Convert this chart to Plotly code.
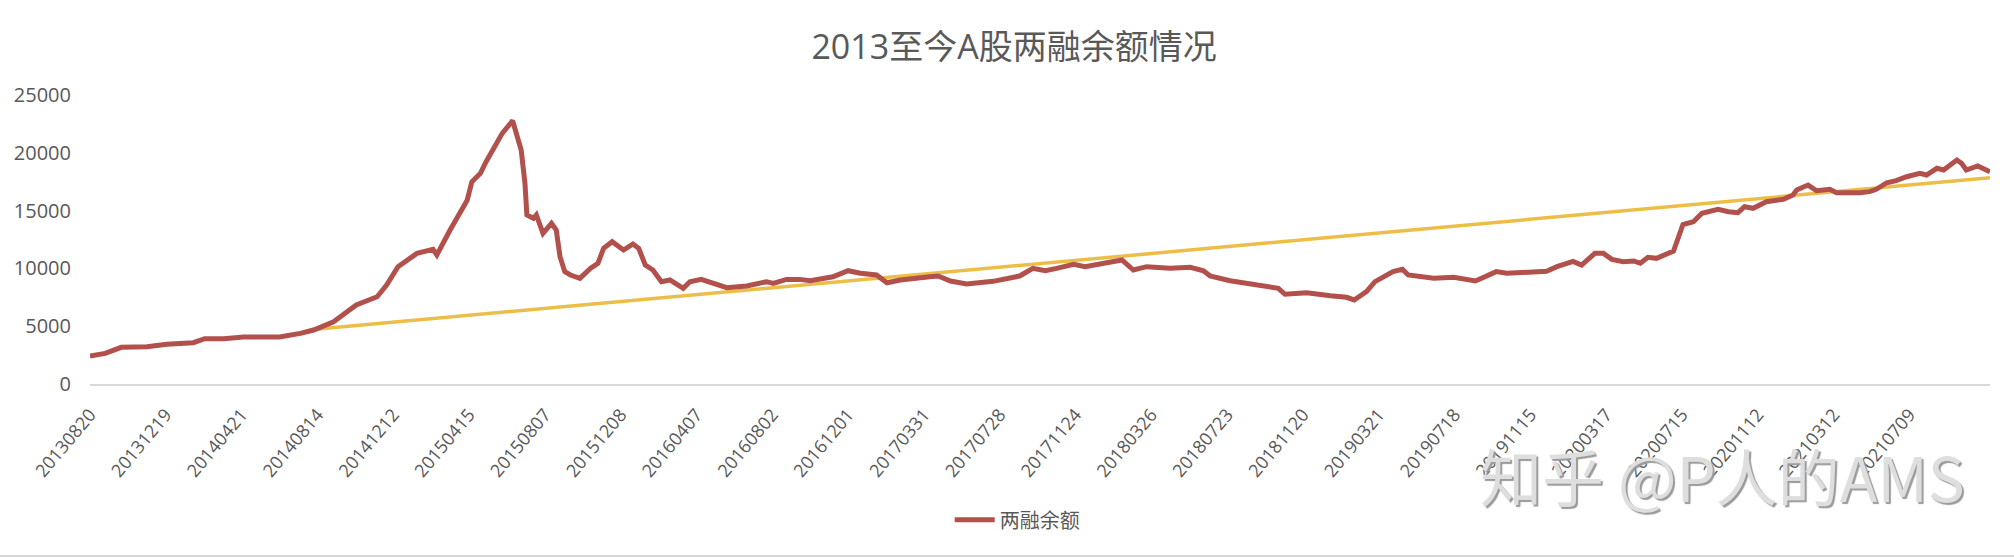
import plotly.graph_objects as go

# ---- data ----
tick_labels = ["20130820", "20131219", "20140421", "20140814", "20141212", "20150415",
               "20150807", "20151208", "20160407", "20160802", "20161201", "20170331",
               "20170728", "20171124", "20180326", "20180723", "20181120", "20190321",
               "20190718", "20191115", "20200317", "20200715", "20201112", "20210312",
               "20210709"]
tick_step = 80            # trading days between labelled categories
n_days = 2006             # number of trading-day categories on the axis

y_ticks = [0, 5000, 10000, 15000, 20000, 25000]

day_index = [0, 16, 33, 60, 81, 109, 121, 141, 162, 200, 222, 236, 257, 271, 281, 303,
             313, 325, 345, 362, 366, 380, 398, 403, 412, 418, 427, 435, 446, 455, 459,
             461, 468, 471, 478, 487, 492, 496, 501, 507, 517, 528, 536, 542, 551, 563,
             573, 579, 586, 594, 603, 612, 626, 633, 645, 658, 672, 693, 714, 721, 735,
             749, 760, 784, 800, 813, 830, 841, 855, 886, 895, 908, 925, 953, 981, 995,
             1008, 1020, 1038, 1050, 1069, 1089, 1101, 1115, 1140, 1161, 1175, 1182, 1203,
             1235, 1254, 1261, 1284, 1309, 1326, 1334, 1347, 1356, 1375, 1385, 1391, 1418,
             1439, 1462, 1484, 1495, 1523, 1537, 1548, 1565, 1574, 1588, 1597, 1606, 1618,
             1629, 1636, 1644, 1653, 1657, 1671, 1681, 1692, 1701, 1718, 1729, 1739, 1746,
             1755, 1769, 1787, 1797, 1801, 1813, 1822, 1836, 1843, 1868, 1878, 1885, 1896,
             1906, 1917, 1931, 1938, 1949, 1956, 1963, 1970, 1975, 1980, 1992, 2005]
balance = [2420, 2650, 3170, 3230, 3430, 3575, 3920, 3920, 4065, 4065, 4380, 4670, 5390,
           6230, 6830, 7550, 8560, 10150, 11300, 11650, 11160, 13320, 15900, 17500, 18225,
           19230, 20530, 21685, 22776, 20240, 17360, 14620, 14330, 14620, 13030, 13900,
           13320, 11015, 9720, 9430, 9140, 10005, 10440, 11740, 12310, 11590, 12110, 11740,
           10290, 9860, 8850, 9000, 8280, 8850, 9050, 8710, 8330, 8480, 8850, 8710, 9050,
           9050, 8935, 9280, 9800, 9575, 9430, 8760, 9000, 9280, 9340, 8910, 8650, 8880,
           9340, 10005, 9800, 10005, 10350, 10150, 10440, 10730, 9860, 10150, 10005, 10090,
           9800, 9340, 8935, 8560, 8280, 7760, 7900, 7640, 7500, 7270, 7985, 8850, 9720,
           9920, 9430, 9140, 9230, 8910, 9720, 9575, 9750, 9750, 10150, 10610, 10290, 11300,
           11300, 10780, 10580, 10640, 10440, 10960, 10870, 11015, 11500, 13800, 14040,
           14770, 15110, 14900, 14820, 15340, 15200, 15770, 15980, 16350, 16780, 17210,
           16720, 16840, 16550, 16550, 16640, 16840, 17410, 17590, 17930, 18230, 18080,
           18660, 18510, 18950, 19380, 19090, 18510, 18860, 18360]

trend_index = [232, 2005]
trend_value = [4700, 17850]

series_name = "两融余额"
title_text = "2013至今A股两融余额情况"
watermark = "知乎 @P人的AMS"

# ---- figure ----
TXT = "#595959"
FONT = "Open Sans, 'Noto Sans CJK SC', sans-serif"

fig = go.Figure()
fig.add_trace(go.Scatter(
    x=trend_index, y=trend_value, mode="lines", showlegend=False,
    line=dict(color="#EDBE47", width=3.5), hoverinfo="skip"))
fig.add_trace(go.Scatter(
    x=day_index, y=balance, mode="lines", name=series_name,
    line=dict(color="#B2504C", width=5)))

fig.update_layout(
    width=2014, height=558,
    margin=dict(l=90, r=24, t=95, b=174),
    paper_bgcolor="white", plot_bgcolor="white",
    font=dict(family=FONT, color=TXT, size=19),
    title=dict(text=title_text, x=0.5035, xref="container", xanchor="center",
               y=1 - 47 / 558, yref="container", yanchor="middle",
               font=dict(size=34, color=TXT, family=FONT)),
    showlegend=True,
    legend=dict(orientation="h", x=0.488, xanchor="center", y=-0.47, yanchor="middle",
                font=dict(size=20, color=TXT, family=FONT), itemwidth=40,
                bgcolor="rgba(0,0,0,0)"),
    xaxis=dict(range=[0, n_days - 1], showgrid=False, zeroline=False,
               showline=True, linecolor="#D9D9D9", linewidth=2,
               tickmode="array",
               tickvals=[i * tick_step for i in range(len(tick_labels))],
               ticktext=tick_labels, tickangle=-50, ticks="",
               ticklabelstandoff=11,
               tickfont=dict(size=18, color=TXT, family=FONT)),
    yaxis=dict(range=[0, 25000], tickmode="array", tickvals=y_ticks,
               ticktext=[str(v) for v in y_ticks],
               showgrid=False, zeroline=False, showline=False, ticks="",
               ticklabelstandoff=18,
               tickfont=dict(size=20, color=TXT, family=FONT)),
)

fig.add_annotation(text=watermark, xref="paper", yref="paper",
                   x=(1722 - 90) / 1900, y=(384 - 475) / 289,
                   xanchor="center", yanchor="middle", showarrow=False,
                   font=dict(size=62, color="#dedede", family="'Noto Sans CJK SC', sans-serif",
                             shadow="2px 2px 1px #9a9a9a"))

fig.add_shape(type="line", xref="paper", yref="paper",
              x0=-90 / 1900, x1=(2014 - 90) / 1900,
              y0=(384 - 556) / 289, y1=(384 - 556) / 289,
              line=dict(color="#D9D9D9", width=2))

fig.write_html("out.html")
